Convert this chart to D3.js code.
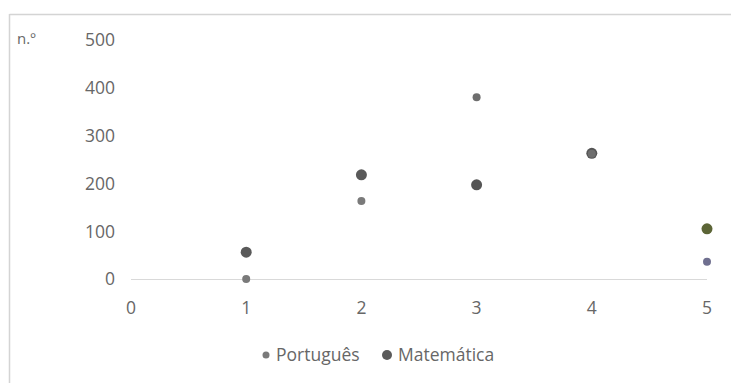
<!DOCTYPE html>
<html><head><meta charset="utf-8">
<script src="https://cdn.jsdelivr.net/npm/d3@7"></script>
<style>body{margin:0;background:#fff;} text{font-family:"Open Sans","Liberation Sans",sans-serif;}</style>
</head><body>
<script>
const xValues = [1, 2, 3, 4, 5];
const portugues = [0, 163, 380, 262, 36];
const matematica = [56, 218, 197, 263, 105];
const xTicks = [0, 1, 2, 3, 4, 5];
const yTicks = [0, 100, 200, 300, 400, 500];
const seriesNames = ["Português", "Matemática"];
const portColors = ["#7a7a7a", "#7a7a7a", "#6e6e6e", "#6e6e6e", "#6f6f8f"];
const matColors = ["#5a5a5a", "#5a5a5a", "#555555", "#555555", "#5c6536"];

const W = 731, H = 383;
const textColor = "#676767";
const svg = d3.select("body").append("svg").attr("width", W).attr("height", H);

svg.append("line").attr("x1", 9.5).attr("x2", W).attr("y1", 14.5).attr("y2", 14.5).attr("stroke", "#d4d4d4").attr("stroke-width", 1.5);
svg.append("line").attr("x1", 9.5).attr("x2", 9.5).attr("y1", 14).attr("y2", H).attr("stroke", "#d4d4d4").attr("stroke-width", 1.5);

const x = d3.scaleLinear().domain([0, 5]).range([131, 707]);
const y = d3.scaleLinear().domain([0, 500]).range([279, 40]);

svg.append("line").attr("x1", x(0)).attr("x2", x(5)).attr("y1", y(0) + 0.5).attr("y2", y(0) + 0.5).attr("stroke", "#d9d9d9");

svg.selectAll(".yt").data(yTicks).enter().append("text")
  .attr("x", 115).attr("y", d => y(d)).attr("dy", "0.36em").attr("text-anchor", "end")
  .attr("font-size", 17.5).attr("fill", textColor).text(d => d);
svg.selectAll(".xt").data(xTicks).enter().append("text")
  .attr("x", d => x(d)).attr("y", 308).attr("dy", "0.36em").attr("text-anchor", "middle")
  .attr("font-size", 17.5).attr("fill", textColor).text(d => d);

svg.append("text").attr("x", 17).attr("y", 44).attr("font-size", 15).attr("fill", textColor).text("n.º");

svg.selectAll(".m").data(xValues).enter().append("circle")
  .attr("cx", d => x(d)).attr("cy", (d, i) => y(matematica[i])).attr("r", 5.5)
  .attr("fill", (d, i) => matColors[i]);
svg.selectAll(".p").data(xValues).enter().append("circle")
  .attr("cx", d => x(d)).attr("cy", (d, i) => y(portugues[i])).attr("r", 4)
  .attr("fill", (d, i) => portColors[i]);

const lg = svg.append("g");
lg.append("circle").attr("cx", 266).attr("cy", 355).attr("r", 3.5).attr("fill", "#7a7a7a");
lg.append("text").attr("x", 276).attr("y", 355).attr("dy", "0.36em").attr("font-size", 17.5).attr("fill", textColor).text(seriesNames[0]);
lg.append("circle").attr("cx", 387).attr("cy", 355).attr("r", 5).attr("fill", "#5a5a5a");
lg.append("text").attr("x", 398).attr("y", 355).attr("dy", "0.36em").attr("font-size", 17.5).attr("fill", textColor).text(seriesNames[1]);
</script>
</body></html>
